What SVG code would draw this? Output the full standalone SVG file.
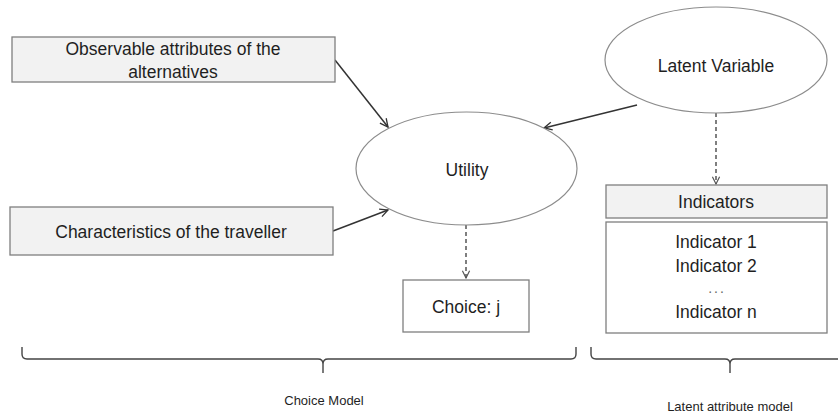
<svg xmlns="http://www.w3.org/2000/svg" width="838" height="414" viewBox="0 0 838 414">
<defs>
<style>
.box{fill:#f2f2f2;stroke:#7f7f7f;stroke-width:1.3}
.wbox{fill:#ffffff;stroke:#7f7f7f;stroke-width:1.3}
.ell{fill:#ffffff;stroke:#8c8c8c;stroke-width:1.2}
.t{font-family:"Liberation Sans",Arial,sans-serif;font-size:17.5px;fill:#1f1f1f;text-anchor:middle}
.s{font-family:"Liberation Sans",Arial,sans-serif;font-size:13px;fill:#1f1f1f;text-anchor:middle}
.solid{stroke:#333;stroke-width:1.5;fill:none}
.dash{stroke:#555;stroke-width:1.5;fill:none;stroke-dasharray:4 3}
.brace{stroke:#444;stroke-width:1.4;fill:none}
</style>
<marker id="ah" viewBox="0 0 10 10" refX="9" refY="5" markerWidth="10" markerHeight="10" markerUnits="userSpaceOnUse" orient="auto">
<path d="M1,1 L9,5 L1,9" fill="none" stroke="#333" stroke-width="1.3"/>
</marker>
<marker id="ahd" viewBox="0 0 10 10" refX="9" refY="5" markerWidth="9" markerHeight="9" markerUnits="userSpaceOnUse" orient="auto">
<path d="M1,1 L9,5 L1,9" fill="none" stroke="#555" stroke-width="1.3"/>
</marker>
</defs>
<rect width="838" height="414" fill="#ffffff"/>
<g id="connectors">
<line class="solid" x1="335" y1="60" x2="388" y2="127" marker-end="url(#ah)"/>
<line class="solid" x1="637" y1="105" x2="544" y2="128" marker-end="url(#ah)"/>
<line class="solid" x1="333" y1="231" x2="388" y2="210" marker-end="url(#ah)"/>
<line class="dash" x1="466" y1="225" x2="466" y2="278" marker-end="url(#ahd)"/>
<line class="dash" x1="716" y1="113" x2="716" y2="184" marker-end="url(#ahd)"/>
</g>
<g id="obs-attributes">
<rect class="box" x="12" y="37" width="323" height="45"/>
<text class="t" x="173" y="55">Observable attributes of the</text>
<text class="t" x="173" y="78">alternatives</text>
</g>
<g id="characteristics">
<rect class="box" x="10" y="207" width="323" height="48"/>
<text class="t" x="171" y="238">Characteristics of the traveller</text>
</g>
<g id="utility">
<ellipse class="ell" cx="466.5" cy="168.5" rx="110.5" ry="56.5"/>
<text class="t" x="467" y="176">Utility</text>
</g>
<g id="latent-variable">
<ellipse class="ell" cx="716" cy="60" rx="111" ry="53"/>
<text class="t" x="716" y="72">Latent Variable</text>
</g>
<g id="choice">
<rect class="wbox" x="403" y="280" width="126" height="52"/>
<text class="t" x="466" y="313">Choice: j</text>
</g>
<g id="indicators">
<rect class="box" x="606" y="185" width="221" height="33"/>
<text class="t" x="716" y="208">Indicators</text>
</g>
<g id="indicator-list">
<rect class="wbox" x="606" y="222" width="221" height="111"/>
<text class="t" x="716" y="248">Indicator 1</text>
<text class="t" x="716" y="272">Indicator 2</text>
<text class="t" x="717" y="293" style="font-size:14px;fill:#666;letter-spacing:2px">...</text>
<text class="t" x="716" y="318">Indicator n</text>
</g>
<g id="choice-model-brace">
<path class="brace" d="M22,347 L22,354 Q22,359 27,359 L318,359 Q323,359 323,364 L323,373 M323,364 Q323,359 328,359 L571,359 Q576,359 576,354 L576,347"/>
<text class="s" x="324" y="405">Choice Model</text>
</g>
<g id="latent-model-brace">
<path class="brace" d="M591,347 L591,354 Q591,359 596,359 L725,359 Q730,359 730,364 L730,373 M730,364 Q730,359 735,359 L870,359"/>
<text class="s" x="730" y="411">Latent attribute model</text>
</g>
</svg>
